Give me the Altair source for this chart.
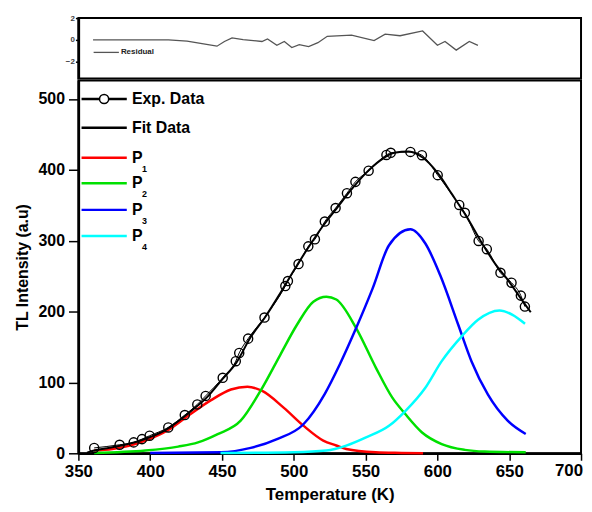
import altair as alt
import pandas as pd

# ---------------- data ----------------
exp_temp = [361, 378.7, 388.5, 394.3, 399.6, 412.6, 424.1, 432.8, 438.6, 450.5, 459.6, 462,
            468.2, 479.6, 494.1, 495.9, 503.3, 510.1, 514.7, 521.6, 529.1, 537, 542.9, 552.1,
            564.5, 567.5, 581.2, 589.2, 600.2, 615.2, 619.1, 628.7, 634.4, 643.9, 651.6, 658.1, 660.9]
exp_tl = [7.6, 12, 15.4, 20, 24.8, 36.5, 54, 69, 81, 106.5, 130, 141.6,
          161.8, 191.6, 236, 243, 267, 292, 302, 327, 346, 367, 383, 398.7,
          421, 424, 425.3, 420.6, 392.5, 350.5, 339.3, 299.6, 288, 254.7, 240.7, 222.5, 207]

fit_temp = [356, 361, 370, 380, 390, 400, 410, 420, 430, 440, 450, 460, 470, 480, 490, 500,
            510, 520, 530, 540, 550, 560, 570, 580, 590, 600, 610, 620, 630, 640, 650, 660, 665]
fit_tl = [1, 4, 7, 11, 16, 23, 32, 46, 62, 80, 104, 128, 164, 192, 224, 258,
          290, 320, 346, 372, 395, 413, 424, 426, 417, 396, 366, 335, 300, 268, 242, 213, 199]

p1_temp = [361, 373.6, 396.6, 412.6, 426.4, 442.4, 456.2, 467.7, 478, 492.9, 506.7, 520.5,
           529.6, 536.5, 557, 575, 590]
p1_tl = [3.8, 6, 18, 33, 53, 75, 90, 94, 88, 64.5, 39, 18, 11, 6, 1.4, 0.5, 0]

p2_temp = [361, 396.6, 419.5, 433.3, 447, 463, 476.8, 490.6, 502.1, 513.6, 522.7, 529.6,
           543.4, 557.2, 568.6, 577.8, 589.3, 603, 619.1, 632.9, 661.5]
p2_tl = [0.5, 3.8, 9.4, 15.4, 27, 46, 88, 139, 181, 214, 221, 217,
         176.7, 120.6, 78.5, 55, 29.4, 13, 4.8, 2.4, 1.4]

p3_temp = [400, 449.3, 470, 488.3, 506.7, 521.6, 531.9, 543.4, 554.9, 566.3, 581.2, 591.6,
           601.9, 614.5, 623.7, 635.1, 648.9, 661.5]
p3_tl = [0.5, 1.4, 7.6, 20, 41, 84, 125, 176.7, 232.7, 293.6, 316, 296,
         251.5, 181.4, 130, 83, 46, 27.2]

p4_temp = [449, 500, 522.7, 536.5, 550.3, 566.3, 577.8, 591.6, 603, 616.9, 628.3, 643.2, 652.3, 661]
p4_tl = [0.5, 1.5, 3.8, 10.8, 22.4, 38.8, 60, 92.6, 130, 165, 188.4, 201.5, 195.4, 182.8]

res_temp = [360.2, 412.7, 425.7, 436.1, 446.5, 451.7, 457.0, 464.7, 477.8, 481.7, 488.2, 493.4,
            498.6, 503.8, 510.3, 516.8, 523.3, 540.2, 555.9, 563.6, 574.0, 589.7, 600.0, 605.3,
            613.1, 622.2, 628.2]
res_val = [0, 0, -0.11, -0.35, -0.58, -0.15, 0.18, 0.03, -0.15, 0.09, -0.5, -0.15,
           -0.7, -0.44, -0.61, -0.26, 0.33, 0.44, -0.06, 0.53, 0.38, 0.82, -0.5, -0.15,
           -0.94, -0.15, -0.5]

legend_labels = ["Exp. Data", "Fit Data", "P", "P", "P", "P"]
legend_subs = ["", "", "1", "2", "3", "4"]
legend_colors = ["#000000", "#000000", "#ff0000", "#00e000", "#0000ff", "#00ffff"]

x_ticks = list(range(350, 701, 25))
y_ticks = list(range(0, 501, 50))
res_ticks = [-2, 0, 2]
last_x_label = 700

# ---------------- styling ----------------
FONT = "Liberation Sans"
X_DOM = [350, 700]
Y_DOM = [0, 526]
RES_DOM = [-3.55, 2]
W = 507

xs = alt.Scale(domain=X_DOM, nice=False, zero=False, padding=0)
ys = alt.Scale(domain=Y_DOM, nice=False, zero=False, padding=0)
rs = alt.Scale(domain=RES_DOM, nice=False, zero=False, padding=0)

x_axis = alt.Axis(
    values=x_ticks,
    labelExpr="(datum.value % 50 == 0 && datum.value < 700) ? datum.label : ''",
    title="Temperature (K)",
    titleFont=FONT, titleFontSize=17, titleFontWeight="bold", titleColor="black",
    titlePadding=8,
    labelFont=FONT, labelFontSize=17, labelFontWeight="bold", labelColor="black",
    labelPadding=3, labelOverlap=False, labelFlush=False,
    tickSize={"condition": {"test": "datum.value % 50 == 0", "value": 7}, "value": 5},
    tickColor="black", tickWidth=1.5,
    domainColor="black", domainWidth=2.5, grid=False,
)
y_axis = alt.Axis(
    values=y_ticks,
    labelExpr="datum.value % 100 == 0 ? datum.label : ''",
    title="TL Intensity (a.u)",
    titleFont=FONT, titleFontSize=16, titleFontWeight="bold", titleColor="black",
    titlePadding=8,
    labelFont=FONT, labelFontSize=16, labelFontWeight="bold", labelColor="black",
    labelPadding=4, labelOverlap=False, labelFlush=False,
    tickSize={"condition": {"test": "datum.value % 100 == 0", "value": 10}, "value": 4},
    tickColor="black", tickWidth=1.5,
    domainColor="black", domainWidth=2.5, grid=False,
)


def series(temps, vals):
    return pd.DataFrame({"T": temps, "I": vals})


def line_layer(temps, vals, color, width):
    return alt.Chart(series(temps, vals)).mark_line(
        color=color, strokeWidth=width, interpolate="monotone"
    ).encode(
        x=alt.X("T:Q", scale=xs, axis=x_axis),
        y=alt.Y("I:Q", scale=ys, axis=y_axis),
    )


comp_layers = [
    line_layer(p1_temp, p1_tl, legend_colors[2], 2.5),
    line_layer(p2_temp, p2_tl, legend_colors[3], 2.5),
    line_layer(p3_temp, p3_tl, legend_colors[4], 2.5),
    line_layer(p4_temp, p4_tl, legend_colors[5], 2.5),
]
fit_layer = line_layer(fit_temp, fit_tl, "black", 2)
exp_line = line_layer(exp_temp, exp_tl, "black", 1)
exp_pts = alt.Chart(series(exp_temp, exp_tl)).mark_point(
    shape="circle", filled=False, size=85, stroke="black", strokeWidth=1.4, opacity=1
).encode(x=alt.X("T:Q", scale=xs), y=alt.Y("I:Q", scale=ys))

# last x tick label, kept inside the frame (right-aligned at its tick)
last_lbl = alt.Chart(pd.DataFrame({"k": [0]})).mark_text(
    align="right", baseline="middle", font=FONT, fontSize=17, fontWeight="bold",
    color="black", dy=18, dx=2
).encode(
    x=alt.datum(last_x_label, scale=xs),
    y=alt.datum(0, scale=ys),
    text=alt.value(str(last_x_label)),
)

# legend (placed through the data scales)
leg_df = pd.DataFrame({
    "label": legend_labels, "sub": legend_subs, "color": legend_colors,
    "ly": [500, 459.4, 417, 381, 343.5, 306.6],
})
leg_lines = alt.Chart(leg_df).mark_rule(strokeWidth=2.5).encode(
    x=alt.datum(352.2, scale=xs), x2=alt.datum(383.7),
    y=alt.Y("ly:Q", scale=ys),
    color=alt.Color("color:N", scale=None),
)
leg_circle = alt.Chart(leg_df.iloc[:1]).mark_point(
    shape="circle", filled=True, fill="white", stroke="black", strokeWidth=1.5, size=85, opacity=1
).encode(x=alt.datum(367.9, scale=xs), y=alt.Y("ly:Q", scale=ys))
leg_text = alt.Chart(leg_df).mark_text(
    align="left", baseline="middle", font=FONT, fontSize=16, fontWeight="bold", color="black"
).encode(x=alt.datum(387.3, scale=xs), y=alt.Y("ly:Q", scale=ys), text="label:N")
leg_sub = alt.Chart(leg_df[leg_df["sub"] != ""]).mark_text(
    align="left", baseline="middle", font=FONT, fontSize=9, fontWeight="bold", color="black", dy=11
).encode(x=alt.datum(394.3, scale=xs), y=alt.Y("ly:Q", scale=ys), text="sub:N")

main = alt.layer(
    *comp_layers, exp_line, fit_layer, exp_pts, last_lbl, leg_lines, leg_circle, leg_text, leg_sub
).properties(width=W, height=376)

# residual panel
res_axis = alt.Axis(
    values=res_ticks, title=None,
    labelFont=FONT, labelFontSize=8, labelFontWeight="bold", labelColor="#444",
    labelPadding=1, labelOverlap=False, labelFlush=False,
    tickSize=3, tickColor="black", tickWidth=1.5,
    domainColor="black", domainWidth=2.5, grid=False,
)
res_df = pd.DataFrame({"T": res_temp, "R": res_val})
res_leg_df = pd.DataFrame({"T": [360.6], "T2": [378.2], "TT": [379.6], "R": [-1.15], "k": ["Residual"]})

res_line = alt.Chart(res_df).mark_line(color="#555555", strokeWidth=1.3).encode(
    x=alt.X("T:Q", scale=xs, axis=None),
    y=alt.Y("R:Q", scale=rs, axis=res_axis),
)
res_leg_line = alt.Chart(res_leg_df).mark_rule(color="#555555", strokeWidth=1.3).encode(
    x=alt.X("T:Q", scale=xs, axis=None), x2="T2:Q",
    y=alt.Y("R:Q", scale=rs, axis=res_axis),
)
res_leg_text = alt.Chart(res_leg_df).mark_text(
    align="left", baseline="middle", font=FONT, fontSize=8, fontWeight="bold", color="#222"
).encode(
    x=alt.X("TT:Q", scale=xs, axis=None),
    y=alt.Y("R:Q", scale=rs, axis=res_axis),
    text="k:N",
)

resid = alt.layer(res_line, res_leg_line, res_leg_text).properties(width=W, height=61)

chart = alt.vconcat(resid, main, spacing=0).configure_view(
    stroke="black", strokeWidth=2
).properties(
    padding={"left": 5, "top": 3, "right": 0, "bottom": 0}
)

chart.save("out.html", embed_options={"renderer": "svg", "actions": False})
